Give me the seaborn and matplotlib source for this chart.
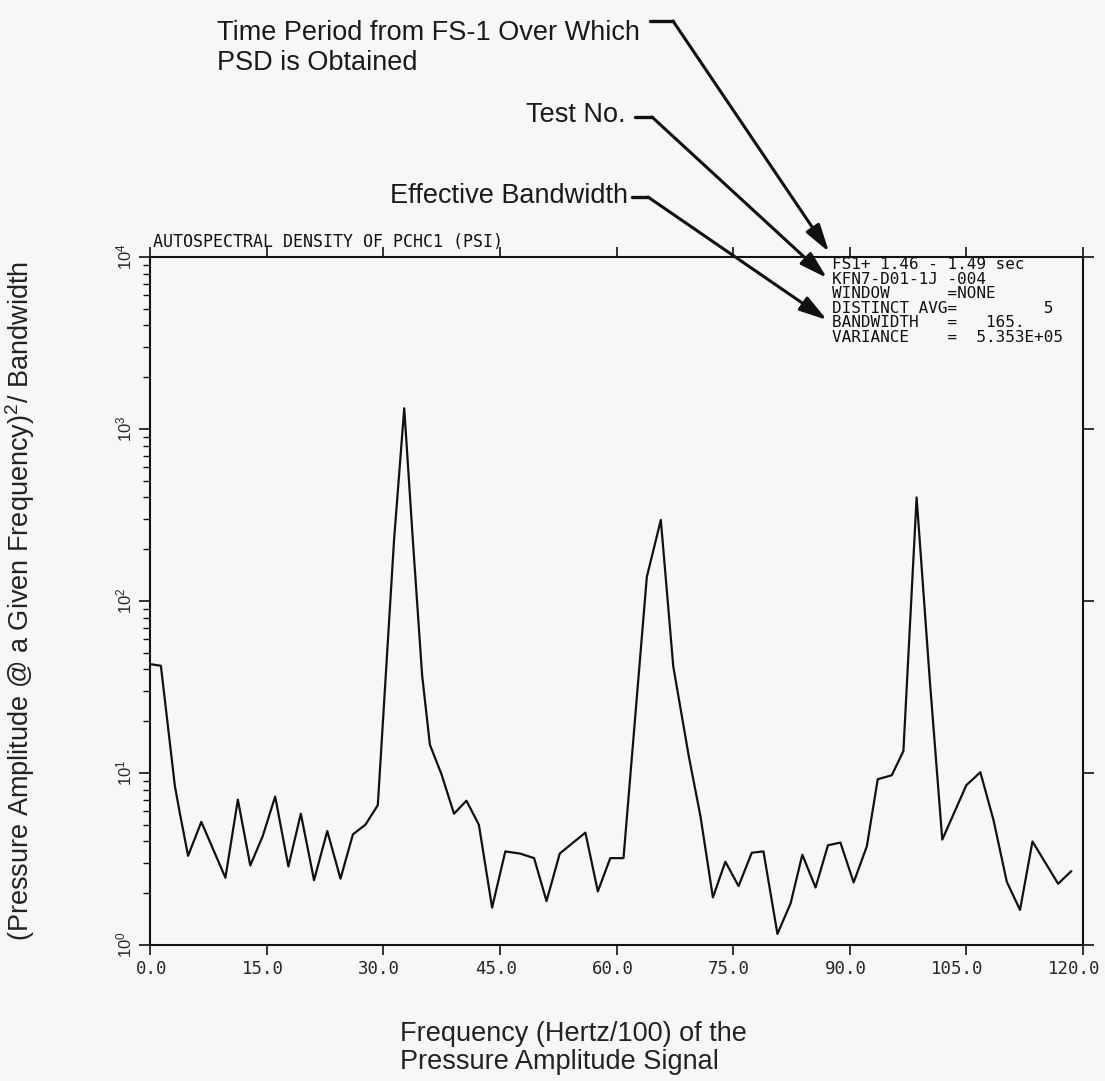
import numpy as np
import pandas as pd
import seaborn as sns
import matplotlib.pyplot as plt
from matplotlib.lines import Line2D
from matplotlib.patches import FancyArrowPatch
from matplotlib.transforms import ScaledTranslation
from matplotlib.ticker import LogLocator, FuncFormatter, NullFormatter

# 读图得到的谱线顶点 (频率 Hertz/100, PSD)
freq = [0.0, 1.4, 3.2, 3.85, 4.9, 6.6, 9.7, 11.3, 12.9, 14.5,
        16.1, 17.8, 19.4, 21.1, 22.8, 24.5, 26.1, 27.7, 29.3, 31.4,
        32.7, 33.8, 35.0, 36.0, 37.5, 39.1, 40.7, 42.3, 44.0, 45.7,
        47.6, 49.4, 51.0, 52.7, 54.3, 56.0, 57.6, 59.2, 60.9, 63.9,
        65.7, 67.3, 69.3, 70.8, 72.4, 74.0, 75.7, 77.4, 78.9, 80.7,
        82.4, 83.9, 85.6, 87.2, 88.8, 90.5, 92.2, 93.6, 95.4, 96.9,
        98.6, 100.3, 101.9, 105.0, 106.8, 108.5, 110.2, 111.9, 113.5, 116.8,
        118.5]
psd = [43, 42, 8.4, 5.8, 3.3, 5.2, 2.46, 7.0, 2.9, 4.3,
       7.3, 2.86, 5.8, 2.38, 4.6, 2.43, 4.4, 5.0, 6.5, 230,
       1320, 228, 37, 14.6, 9.8, 5.8, 6.9, 5.0, 1.65, 3.5,
       3.4, 3.2, 1.8, 3.4, 3.9, 4.5, 2.05, 3.2, 3.2, 138,
       296, 41.7, 12.5, 5.6, 1.89, 3.05, 2.2, 3.44, 3.5, 1.16,
       1.75, 3.35, 2.16, 3.8, 3.94, 2.31, 3.75, 9.2, 9.7, 13.4,
       400, 34.4, 4.1, 8.5, 10.1, 5.3, 2.33, 1.6, 4.0, 2.27,
       2.69]

x_ticks = [0, 15, 30, 45, 60, 75, 90, 105, 120]

box_lines = ['FS1+ 1.46 - 1.49 sec',
             'KFN7-D01-1J -004',
             'WINDOW      =NONE',
             'DISTINCT AVG=         5',
             'BANDWIDTH   =   165.',
             'VARIANCE    =  5.353E+05']

title = 'AUTOSPECTRAL DENSITY OF PCHC1 (PSI)'
xlabel = 'Frequency (Hertz/100) of the\nPressure Amplitude Signal'
ylabel = '(Pressure Amplitude @ a Given Frequency)$^{2}$/ Bandwidth'

sns.set_theme(style='ticks')
plt.rcParams['font.family'] = ['Liberation Sans', 'DejaVu Sans']
plt.rcParams['mathtext.fontset'] = 'custom'
plt.rcParams['mathtext.rm'] = 'Liberation Sans'
plt.rcParams['mathtext.it'] = 'Liberation Sans:italic'

bg = '#f7f7f7'
ink = '#111111'
mono = 'DejaVu Sans Mono'
W, H = 1105, 1081

def fx(px):
    return px / W

def fy(py):
    # 图片像素 (从上往下) -> figure 比例
    return 1 - py / H

fig = plt.figure(figsize=(W / 100, H / 100), dpi=100, facecolor=bg)
ax = fig.add_axes([fx(150), fy(945), fx(1083) - fx(150), fy(257) - fy(945)])
ax.set_facecolor(bg)

df = pd.DataFrame({'freq': freq, 'psd': psd})
sns.lineplot(data=df, x='freq', y='psd', ax=ax, color=ink, lw=1.6,
             estimator=None, sort=False)

ax.set_yscale('log')
ax.set_xlim(0, 120)
ax.set_ylim(1, 1e4)

# x 轴：小数点对齐刻度
ax.set_xticks(x_ticks)
ax.set_xticklabels([f'{v:.1f}' for v in x_ticks], family=mono, fontsize=12.5)
ax.tick_params(axis='x', which='major', direction='out', top=True, bottom=True,
               length=7, width=1.2, color=ink, pad=4)
shift = ScaledTranslation(0.17, 0, fig.dpi_scale_trans)
for lab in ax.get_xticklabels():
    lab.set_ha('right')
    lab.set_transform(lab.get_transform() + shift)

# y 轴：左侧有次刻度，右侧只有主刻度
ax.yaxis.set_major_locator(LogLocator(base=10, numticks=10))
ax.yaxis.set_minor_locator(LogLocator(base=10, subs=np.arange(2, 10), numticks=20))
ax.yaxis.set_major_formatter(FuncFormatter(lambda v, p: r'$10^{%d}$' % round(np.log10(v))))
ax.yaxis.set_minor_formatter(NullFormatter())
ax.tick_params(axis='y', which='major', direction='out', left=True, right=True,
               length=8, width=1.2, color=ink, labelsize=12, labelrotation=90, pad=3)
ax.tick_params(axis='y', which='minor', direction='out', left=True, right=False,
               length=5, width=1.0, color=ink)
for lab in ax.get_yticklabels():
    lab.set_va('center')

for s in ax.spines.values():
    s.set_color(ink)
    s.set_linewidth(1.5)

ax.set_xlabel('')
ax.set_ylabel(ylabel, fontsize=19.5, color='#222222')
ax.yaxis.set_label_coords((37 - 150) / (1083 - 150), 0.5)

fig.text(fx(400), fy(1048), xlabel, ha='left', va='center', fontsize=19.5,
         linespacing=1.1, color='#222222')

# 左上角标题
fig.text(fx(153), fy(242), title, family=mono, fontsize=12, ha='left', va='center', color=ink)

# 右上角参数框 (一个多行文本)
fig.text(fx(832), fy(257), '\n'.join(box_lines), family=mono, fontsize=11.5,
         ha='left', va='top', linespacing=0.96, color=ink)

# 说明文字与箭头
fig.text(fx(640), fy(20), 'Time Period from FS-1 Over Which\nPSD is Obtained', ha='right', va='top',
         multialignment='left', fontsize=19.5, linespacing=1.2, color='#1a1a1a')
fig.text(fx(626), fy(115), 'Test No.', ha='right', va='center', fontsize=19.5, color='#1a1a1a')
fig.text(fx(628), fy(196), 'Effective Bandwidth', ha='right', va='center', fontsize=19.5, color='#1a1a1a')

arrows = [((650, 21), (673, 21), (829, 252)),
          ((635, 117), (652, 117), (827, 278)),
          ((632, 197), (648, 197), (827, 320))]
for a, b, tip in arrows:
    fig.add_artist(Line2D([fx(a[0]), fx(b[0])], [fy(a[1]), fy(b[1])], transform=fig.transFigure,
                          color=ink, lw=2.4, solid_capstyle='round'))
    fig.add_artist(FancyArrowPatch((fx(b[0]), fy(b[1])), (fx(tip[0]), fy(tip[1])),
                                   transform=fig.transFigure, color=ink, lw=2.2,
                                   arrowstyle='-|>,head_length=1.2,head_width=0.35',
                                   mutation_scale=14, shrinkA=0, shrinkB=0))

plt.savefig('out.png', dpi=100, facecolor=bg)
